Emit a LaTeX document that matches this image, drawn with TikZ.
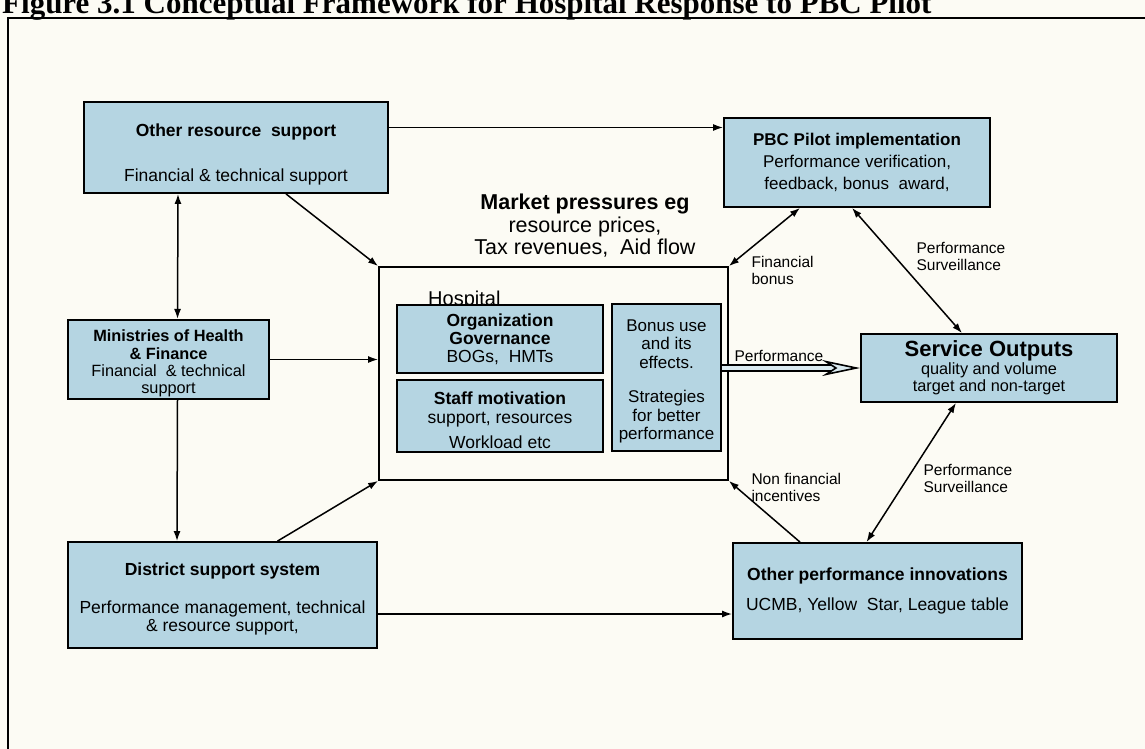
\documentclass[tikz,border=0pt]{standalone}
\usepackage{fontspec}
\setmainfont{Liberation Sans}
\newfontfamily\titlefont{Liberation Serif}
\usetikzlibrary{
    positioning,
    arrows.meta
}
\definecolor{boxblue}{RGB}{181,213,226}
\definecolor{paper}{RGB}{252,251,244}
\newcommand{\fsz}[2]{\fontsize{#1}{#2}\selectfont}
\newcommand{\pad}[1]{\rule{0pt}{#1}}
\tikzset{
    >={Latex[length=10pt,width=7pt]},
    box/.style={
        draw,
        line width=1.8pt,
        fill=boxblue,
        align=center,
        inner sep=2pt
    },
    lbl/.style={
        align=left,
        anchor=west,
        font=\fsz{15.5}{17}
    },
    link/.style={line width=1.5pt}
}

\begin{document}
\begin{tikzpicture}[
    x=1pt,
    y=-1pt
]

    % Fondo y marco
    \useasboundingbox (0,0) rectangle (1145,749);
    \fill[paper] (0,0) rectangle (1145,749);
    \draw[line width=1.8pt] (8,18) rectangle (1170,770);
    \node[anchor=base west, font=\titlefont\bfseries\fsz{31}{31}, inner sep=0pt]
        (title) at (2,14) {Figure 3.1 Conceptual Framework for Hospital Response to PBC Pilot};

    % Cajas
    \node[box, minimum width=304pt, minimum height=91pt, font=\fsz{17.5}{21}]
        (ors) at (236,147.5) {\pad{27pt}\textbf{Other resource~ support}\\[24pt]Financial \& technical support};
    \node[box, minimum width=266pt, minimum height=89pt, font=\fsz{17}{22}]
        (pbc) at (857,162.5) {\textbf{PBC Pilot implementation}\\Performance verification,\\feedback, bonus~ award,};
    \node[box, minimum width=201pt, minimum height=73pt, font=\fsz{16.3}{17.3}]
        (min) at (168.5,359.5) {\pad{20pt}\textbf{Ministries of Health}\\\textbf{\& Finance}\\Financial~ \& technical\\support};
    \node[box, minimum width=309pt, minimum height=106pt, font=\fsz{17.5}{18}]
        (dss) at (222.5,595) {\pad{21pt}\textbf{District support system}\\[20pt]Performance management, technical\\\& resource support,};
    \node[box, minimum width=256pt, minimum height=68pt, font=\fsz{16.3}{17.5}]
        (svc) at (989,368) {{\fsz{22}{24}\bfseries Service Outputs}\\quality and volume\\target and non-target};
    \node[box, minimum width=289pt, minimum height=96pt, font=\fsz{17.5}{21}]
        (opi) at (877.5,591) {\textbf{Other performance innovations}\\[9pt]UCMB, Yellow~ Star, League table};

    % Hospital
    \node[draw, line width=1.8pt, minimum width=349pt, minimum height=213pt]
        (hosp) at (553.5,373.5) {};
    \node[anchor=base west, font=\fsz{20}{22}, inner sep=0pt]
        (hosplbl) at (428,305) {Hospital};
    \node[box, minimum width=206pt, minimum height=68pt, font=\fsz{17.5}{18}]
        (org) at (500,339) {\textbf{Organization}\\\textbf{Governance}\\BOGs,~ HMTs};
    \node[box, minimum width=206pt, minimum height=72pt, font=\fsz{17.5}{19}]
        (staff) at (500,416) {\pad{21pt}\textbf{Staff motivation}\\support, resources\\[6pt]Workload etc};
    \node[box, minimum width=109pt, minimum height=147pt, font=\fsz{17}{18.5}]
        (bonus) at (666.5,377.5) {\pad{20pt}Bonus use\\and its\\effects.\\[16pt]Strategies\\for better\\performance};

    % Presiones de mercado
    \node[align=center, font=\fsz{21.5}{22.5}]
        (market) at (585,226) {\textbf{Market pressures eg}\\resource prices,\\Tax revenues,~ Aid flow};

    % Etiquetas
    \node[lbl] (lfin)  at (748,270) {Financial\\bonus};
    \node[lbl] (lps1)  at (913,256) {Performance\\Surveillance};
    \node[lbl] (lnfi)  at (748,487) {Non financial\\incentives};
    \node[lbl] (lps2)  at (920,478) {Performance\\Surveillance};
    \node[lbl] (lperf) at (731,356) {Performance};

    % Conexiones
    \path[->, link]

        % Desde otros recursos
        ([yshift=20pt]ors.east)
            edge ([yshift=35pt]pbc.west)
        ([xshift=50pt]ors.south)
            edge (hosp.north west)
        ([xshift=-58pt]ors.south)
            edge[<->] ([xshift=9pt]min.north)

        % Desde los ministerios
        (min.east)
            edge (hosp.west |- min.east)
        ([xshift=9pt]min.south)
            edge ([xshift=-45.5pt]dss.north)

        % Desde el distrito
        ([xshift=55pt]dss.north)
            edge (hosp.south west)
        ([yshift=-19pt]dss.east)
            edge ([yshift=-23pt]opi.west)

        % Piloto PBC
        ([xshift=-57pt]pbc.south)
            edge[<->] (hosp.north east)
        ([xshift=-5pt]pbc.south)
            edge[<->] ([xshift=-27pt]svc.north)

        % Otras innovaciones
        ([xshift=-77.5pt]opi.north)
            edge (hosp.south east)
        ([xshift=-11pt]opi.north)
            edge[<->] ([xshift=-33pt]svc.south);

    % Flecha de desempeño
    \draw[line width=1.6pt, double=white!50!boxblue, double distance=4pt,
          -{Stealth[length=38pt,width=16pt,open,fill=white!50!boxblue]}]
        ([yshift=9.5pt]bonus.east) -- (svc.west);

\end{tikzpicture}
\end{document}
